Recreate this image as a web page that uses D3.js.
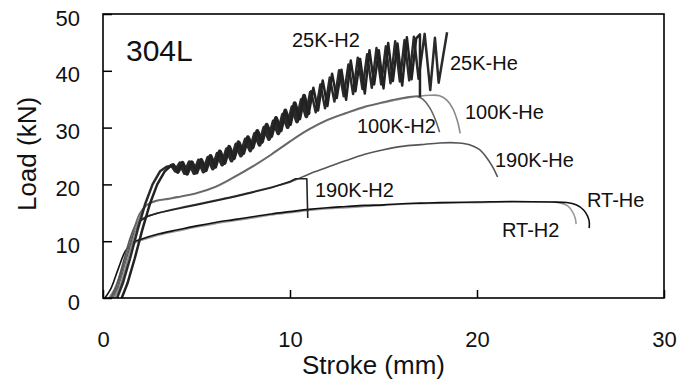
<!DOCTYPE html>
<html><head><meta charset="utf-8">
<script src="https://cdn.jsdelivr.net/npm/d3@7"></script>
<style>body{margin:0;background:#fff}svg{display:block}</style>
</head><body><svg id="c" width="680" height="382"></svg>
<script>
const xTicks=[0,10,20,30];
const yTicks=[0,10,20,30,40,50];

const k25H2=[[1.0,0],[1.3,2.5],[1.7,7],[2.1,12],[2.5,16.5],[2.9,20],[3.3,22.3],[3.6,23.2],
[3.75,23.4],[4.0,22.2],[4.25,23.8],[4.5,21.9],[4.75,23.9],[5.0,22.1],[5.25,24.3],[5.5,22.5],[5.75,25.0],[6.0,23.1],[6.25,25.8],[6.5,23.8],[6.75,26.6],[7.0,24.6],[7.25,27.4],[7.5,25.5],[7.75,28.3],[8.0,26.5],[8.25,29.4],[8.5,27.5],[8.75,30.5],[9.0,28.5],[9.25,31.7],[9.5,29.5],[9.75,33.0],[10.0,30.6],[10.25,34.3],[10.5,31.6],[10.75,35.6],[11.0,32.4],[11.25,37.0],[11.5,33.0],[11.75,38.3],[12.0,33.8],[12.25,39.5],[12.5,35.2],[12.75,40.2],[13.0,34.9],[13.25,41.8],[13.5,36.4],[13.75,42.1],[14.0,36.0],[14.25,43.6],[14.5,37.6],[14.75,43.6],[15.0,36.9],[15.25,44.9],[15.5,38.2],[15.75,44.8],[16.0,37.4],[16.25,45.9],[16.5,38.5],[16.75,45.7],[16.95,46.4],[16.95,35.4]];

const k25He=[[0.75,0],[1.05,2.5],[1.45,7],[1.85,12],[2.25,16.5],[2.65,20],[3.05,22.3],[3.4,23.1],[3.7,23.3],
[3.875,22.4],[4.125,23.7],[4.375,22.0],[4.625,23.9],[4.875,22.0],[5.125,24.2],[5.375,22.3],[5.625,24.7],[5.875,22.8],[6.125,25.4],[6.375,23.5],[6.625,26.2],[6.875,24.2],[7.125,27.0],[7.375,25.1],[7.625,27.9],[7.875,26.0],[8.125,28.9],[8.375,27.0],[8.625,30.0],[8.875,28.0],[9.125,31.1],[9.375,29.0],[9.625,32.3],[9.875,30.1],[10.125,33.6],[10.375,31.1],[10.625,34.9],[10.875,32.0],[11.125,36.4],[11.375,32.7],[11.625,37.6],[11.875,33.4],[12.125,38.8],[12.375,34.6],[12.625,40.1],[12.875,35.5],[13.125,41.1],[13.375,35.9],[13.625,42.3],[13.875,36.8],[14.125,42.9],[14.375,37.0],[14.625,44.0],[14.875,37.6],[15.125,44.3],[15.375,37.8],[15.625,45.2],[15.875,38.1],[16.125,45.4],[16.375,38.3],[16.625,46.0],[16.875,38.6],[17.2,46.5],[17.5,36.6],[17.75,45.8],[17.95,37.9],[18.4,46.8]];

const k100He=[[0.6,0],[0.9,2],[1.3,6.5],[1.7,11.5],[2.0,14.6],[2.3,16.2],[2.8,17.0],[3.5,17.4],[4.0,17.7],[5.0,18.4],[6.0,19.5],[7.0,21.2],[8.0,23.1],[9.0,25.2],[10.0,27.5],[11.0,29.6],[12.0,31.3],[13.0,32.5],[14.0,33.6],[15.0,34.4],[16.0,35.1],[16.8,35.5],[17.5,35.7],[18.0,35.6],[18.4,34.8],[18.7,33.4],[18.95,31.2],[19.1,29.0]];
const k100H2=[[0.5,0],[0.8,2],[1.2,6.5],[1.6,11.5],[1.95,14.8],[2.3,16.3],[2.8,17.1],[3.5,17.5],[4.0,17.8],[5.0,18.5],[6.0,19.6],[7.0,21.3],[8.0,23.2],[9.0,25.3],[10.0,27.6],[11.0,29.7],[12.0,31.4],[13.0,32.6],[14.0,33.7],[15.0,34.5],[16.0,35.2],[16.8,35.5],[17.1,35.0],[17.45,33.6],[17.75,31.6],[18.0,29.2]];

const k190He=[[0.4,0],[0.7,2],[1.1,6.5],[1.5,11],[1.85,13.4],[2.3,14.3],[3.0,15.0],[4.0,15.8],[5.0,16.5],[6.0,17.2],[7.0,17.9],[8.0,18.7],[9.0,19.5],[10.0,20.4],[11.0,21.8],[12.0,23.0],[13.0,24.2],[14.0,25.3],[15.0,26.1],[16.0,26.7],[17.0,27.0],[18.0,27.3],[19.0,27.3],[19.6,27.0],[20.1,26.2],[20.5,24.8],[20.85,23.0],[21.1,21.3]];
const k190H2=[[0.5,0],[0.8,2],[1.2,6.5],[1.6,11],[1.95,13.5],[2.4,14.4],[3.0,15.0],[4.0,15.7],[5.0,16.4],[6.0,17.1],[7.0,17.8],[8.0,18.6],[9.0,19.4],[10.0,20.5],[10.3,21.0],[10.9,21.0],[10.95,14.1]];

const rtHe=[[0.1,0],[0.4,1.5],[0.8,5],[1.2,8.3],[1.6,9.8],[2.0,10.3],[3.0,11.3],[4.0,12.0],[5.0,12.7],[6.0,13.3],[7.0,13.8],[8.0,14.3],[9.0,14.8],[10.0,15.2],[11.0,15.6],[12.0,15.9],[13.0,16.1],[14.0,16.3],[15.0,16.4],[16.0,16.6],[17.0,16.7],[18.0,16.8],[20.0,16.9],[22.0,17.0],[24.0,16.9],[24.8,16.8],[25.3,16.4],[25.7,15.5],[25.9,14.5],[26.0,13.5],[26.0,12.3]];
const rtH2=[[0.3,0],[0.6,1.5],[1.0,5],[1.4,8.5],[1.75,9.8],[2.1,10.2],[3.0,11.1],[4.0,11.8],[5.0,12.5],[6.0,13.1],[7.0,13.6],[8.0,14.1],[9.0,14.6],[10.0,15.0],[11.0,15.4],[12.0,15.7],[13.0,15.9],[14.0,16.1],[15.0,16.3],[16.0,16.5],[18.0,16.7],[20.0,16.8],[22.0,16.9],[24.0,16.9],[24.5,16.7],[24.85,16.2],[25.1,15.2],[25.25,14.1],[25.3,13.0]];

const x=d3.scaleLinear().domain([0,30]).range([103,664]);
const y=d3.scaleLinear().domain([0,50]).range([298,14]);
const svg=d3.select("#c");
const FONT="'Liberation Sans', Arial, Helvetica, sans-serif";

const cr=d3.curveCatmullRom.alpha(0.5);
const series=[
 {data:rtH2,color:"#9a9a9a",w:1.6,curve:cr},
 {data:rtHe,color:"#111",w:1.6,curve:cr},
 {data:k190He,color:"#555",w:1.6,curve:cr},
 {data:k190H2,color:"#222",w:1.6,curve:d3.curveLinear},
 {data:k100He,color:"#8a8a8a",w:1.6,curve:cr},
 {data:k100H2,color:"#666",w:1.6,curve:cr},
 {data:k25He.filter(d=>d[0]>=3.6&&d[0]<=11.2),color:"#2a2a2a",w:4,curve:d3.curveLinear},
 {data:k25H2.filter(d=>d[0]>=3.6&&d[0]<=11.2),color:"#2a2a2a",w:4,curve:d3.curveLinear},
 {data:k25He,color:"#2a2a2a",w:2.5,curve:d3.curveLinear},
 {data:k25H2,color:"#222",w:2.5,curve:d3.curveLinear}
];
const line=c=>d3.line().x(d=>x(d[0])).y(d=>y(d[1])).curve(c);
svg.append("g").selectAll("path").data(series).join("path")
  .attr("d",s=>line(s.curve)(s.data)).attr("fill","none")
  .attr("stroke",s=>s.color).attr("stroke-width",s=>s.w)
  .attr("stroke-linejoin","round");

const gx=svg.append("g").attr("transform","translate(0,298)")
  .call(d3.axisBottom(x).tickValues(xTicks).tickSizeInner(-8).tickSizeOuter(0).tickPadding(33));
const gy=svg.append("g").attr("transform","translate(103,0)")
  .call(d3.axisLeft(y).tickValues(yTicks).tickSizeInner(-9).tickSizeOuter(0).tickPadding(23));
[gx,gy].forEach(g=>{g.select(".domain").remove();
  g.selectAll("line").attr("stroke","#000").attr("stroke-width",1.5);
  g.selectAll("text").attr("font-family",FONT).attr("font-size",22).attr("fill","#111");});
gy.selectAll("text").attr("dy","0.5em");
svg.append("rect").attr("x",x(0)).attr("y",y(50)).attr("width",x(30)-x(0)).attr("height",y(0)-y(50))
  .attr("fill","none").attr("stroke","#000").attr("stroke-width",1.6);

svg.append("text").attr("x",302).attr("y",374).attr("font-family",FONT).attr("font-size",26).attr("fill","#111").text("Stroke (mm)");
svg.append("text").attr("transform","translate(36,154) rotate(-90)").attr("text-anchor","middle")
  .attr("font-family",FONT).attr("font-size",26).attr("fill","#111").text("Load (kN)");

svg.append("text").attr("x",126).attr("y",61).attr("font-family",FONT).attr("font-size",30).attr("fill","#111").text("304L");
const labels=[
 {t:"25K-H2",x:292,y:47},{t:"25K-He",x:450,y:70},{t:"100K-He",x:465,y:119},{t:"100K-H2",x:357,y:133},
 {t:"190K-He",x:495,y:167},{t:"190K-H2",x:315,y:197},{t:"RT-He",x:587,y:207},{t:"RT-H2",x:502,y:237}
];
svg.append("g").selectAll("text").data(labels).join("text")
  .attr("x",d=>d.x).attr("y",d=>d.y).attr("font-family",FONT).attr("font-size",20).attr("fill","#111").text(d=>d.t);
</script></body></html>
